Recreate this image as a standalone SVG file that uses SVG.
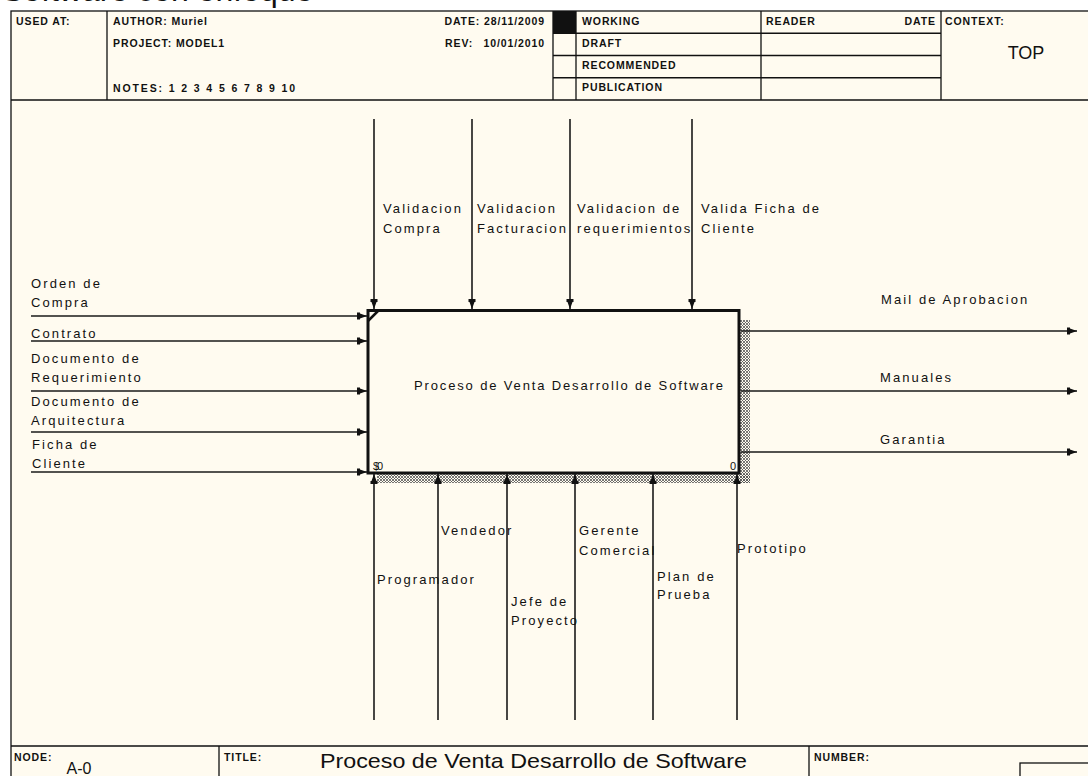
<svg xmlns="http://www.w3.org/2000/svg" width="1088" height="776" viewBox="0 0 1088 776">
  <defs>
    <style>
      .rule{fill:none;stroke:#111;stroke-width:1.3}
      .hdr{font-family:"Liberation Sans",Arial,sans-serif;font-size:10.5px;font-weight:bold;fill:#111;letter-spacing:0.9px}
      .lbl{font-family:"Liberation Sans",Arial,sans-serif;font-size:13px;fill:#111;letter-spacing:2.1px}
      .arrow{fill:none;stroke:#1a1a1a;stroke-width:1.6;marker-end:url(#ah)}
      .big{font-family:"Liberation Sans",Arial,sans-serif;fill:#111}
    </style>
    <marker id="ah" markerWidth="10" markerHeight="8" refX="10" refY="4" orient="auto" markerUnits="userSpaceOnUse" viewBox="0 0 10 8">
      <path d="M0,0.5 L3,0.5 L3,1.5 L10,4 L3,6.5 L3,7.5 L0,7.5 Z" fill="#111"/>
    </marker>
    <pattern id="hatch" width="3" height="3" patternUnits="userSpaceOnUse">
      <path d="M0,0 L3,3 M3,0 L0,3" stroke="#555" stroke-width="0.8"/>
    </pattern>
  </defs>

  <!-- page -->
  <rect x="0" y="0" width="1088" height="776" fill="#ffffff"/>
  <text class="big" x="2" y="0.5" font-size="32">Software con enfoque</text>
  <rect x="11" y="11" width="1090" height="780" fill="#fffbf0" stroke="#111" stroke-width="1.3"/>

  <!-- header block -->
  <g id="header">
    <path class="rule" d="M11,100 H1088 M107,11 V100 M553,11 V100 M576,11 V100 M761,11 V100 M941,11 V100 M553,33.25 H941 M553,55.5 H941 M553,77.75 H941"/>
    <rect x="553" y="11" width="23" height="22.25" fill="#111"/>
    <text class="hdr" x="16" y="25">USED AT:</text>
    <text class="hdr" x="113" y="25">AUTHOR: Muriel</text>
    <text class="hdr" x="113" y="47">PROJECT: MODEL1</text>
    <text class="hdr" x="113" y="92" textLength="183" lengthAdjust="spacing">NOTES: 1 2 3 4 5 6 7 8 9 10</text>
    <text class="hdr" x="545" y="25" text-anchor="end">DATE: 28/11/2009</text>
    <text class="hdr" x="445" y="47">REV:</text>
    <text class="hdr" x="545" y="47" text-anchor="end">10/01/2010</text>
    <text class="hdr" x="582" y="25">WORKING</text>
    <text class="hdr" x="582" y="47">DRAFT</text>
    <text class="hdr" x="582" y="69">RECOMMENDED</text>
    <text class="hdr" x="582" y="91">PUBLICATION</text>
    <text class="hdr" x="766" y="25">READER</text>
    <text class="hdr" x="936" y="25" text-anchor="end">DATE</text>
    <text class="hdr" x="945" y="25">CONTEXT:</text>
    <text class="big" x="1026" y="59" font-size="18" text-anchor="middle">TOP</text>
  </g>

  <!-- footer block -->
  <g id="footer">
    <path class="rule" d="M11,746 H1088 M219,746 V776 M809,746 V776"/>
    <rect x="1020" y="763" width="80" height="20" fill="none" stroke="#111" stroke-width="1.3"/>
    <text class="hdr" x="14" y="761">NODE:</text>
    <text class="hdr" x="224" y="761">TITLE:</text>
    <text class="hdr" x="814" y="761">NUMBER:</text>
    <text class="big" x="79" y="774" font-size="16" text-anchor="middle">A-0</text>
    <text class="big" x="320" y="768" font-size="21" textLength="427" lengthAdjust="spacingAndGlyphs">Proceso de Venta Desarrollo de Software</text>
  </g>

  <!-- activity box A0 -->
  <g id="A0">
    <rect x="740" y="320" width="10" height="163" fill="url(#hatch)"/>
    <rect x="377" y="474" width="373" height="9" fill="url(#hatch)"/>
    <rect x="368" y="310.5" width="371" height="162.5" fill="none" stroke="#111" stroke-width="3"/>
    <path d="M368,321 L378,311" stroke="#111" stroke-width="2.5"/>
    <text class="lbl" x="414" y="390" textLength="311" lengthAdjust="spacing">Proceso de Venta Desarrollo de Software</text>
    <text class="big" x="373" y="470" font-size="11" letter-spacing="-2">$0</text>
    <text class="big" x="736" y="470" font-size="11" text-anchor="end">0</text>
  </g>

  <!-- arrows -->
  <g id="connectors">
    <!-- inputs -->
    <path class="arrow" d="M31,316 H367"/>
    <path class="arrow" d="M31,341 H367"/>
    <path class="arrow" d="M31,391 H367"/>
    <path class="arrow" d="M31,432 H367"/>
    <path class="arrow" d="M31,472 H367"/>
    <!-- controls -->
    <path class="arrow" d="M374,119 V309"/>
    <path class="arrow" d="M472,119 V309"/>
    <path class="arrow" d="M570,119 V309"/>
    <path class="arrow" d="M692,119 V309"/>
    <!-- outputs -->
    <path class="arrow" d="M741,331 H1077"/>
    <path class="arrow" d="M741,391 H1077"/>
    <path class="arrow" d="M741,452 H1077"/>
    <!-- mechanisms -->
    <path class="arrow" d="M374,720 V474"/>
    <path class="arrow" d="M438,720 V474"/>
    <path class="arrow" d="M507,720 V474"/>
    <path class="arrow" d="M575,720 V474"/>
    <path class="arrow" d="M653,720 V474"/>
    <path class="arrow" d="M737,720 V474"/>

    <!-- input labels -->
    <text class="lbl" x="31" y="288">Orden de</text>
    <text class="lbl" x="31" y="307">Compra</text>
    <text class="lbl" x="31" y="338">Contrato</text>
    <text class="lbl" x="31" y="363">Documento de</text>
    <text class="lbl" x="31" y="382">Requerimiento</text>
    <text class="lbl" x="31" y="406">Documento de</text>
    <text class="lbl" x="31" y="425">Arquitectura</text>
    <text class="lbl" x="32" y="449">Ficha de</text>
    <text class="lbl" x="32" y="468">Cliente</text>

    <!-- control labels -->
    <text class="lbl" x="383" y="213">Validacion</text>
    <text class="lbl" x="383" y="233">Compra</text>
    <text class="lbl" x="477" y="213">Validacion</text>
    <text class="lbl" x="477" y="233">Facturacion</text>
    <text class="lbl" x="577" y="213">Validacion de</text>
    <text class="lbl" x="577" y="233">requerimientos</text>
    <text class="lbl" x="701" y="213">Valida Ficha de</text>
    <text class="lbl" x="701" y="233">Cliente</text>

    <!-- output labels -->
    <text class="lbl" x="881" y="304">Mail de Aprobacion</text>
    <text class="lbl" x="880" y="382">Manuales</text>
    <text class="lbl" x="880" y="444">Garantia</text>

    <!-- mechanism labels -->
    <text class="lbl" x="377" y="584">Programador</text>
    <text class="lbl" x="441" y="535">Vendedor</text>
    <text class="lbl" x="511" y="606">Jefe de</text>
    <text class="lbl" x="511" y="625">Proyecto</text>
    <text class="lbl" x="579" y="535">Gerente</text>
    <text class="lbl" x="579" y="555">Comercial</text>
    <text class="lbl" x="657" y="581">Plan de</text>
    <text class="lbl" x="657" y="599">Prueba</text>
    <text class="lbl" x="737" y="553">Prototipo</text>
  </g>
</svg>
